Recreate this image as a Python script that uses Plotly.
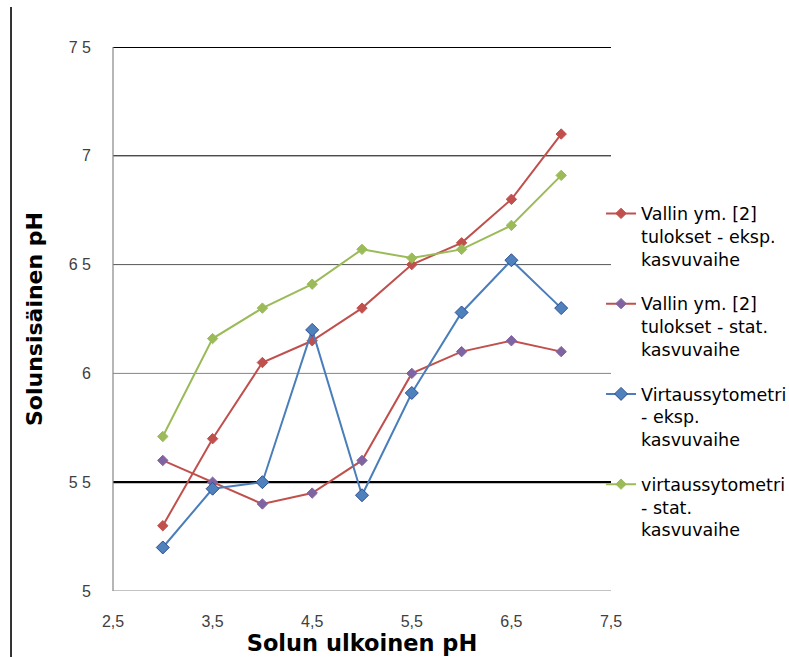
import plotly.graph_objects as go

# Solun ulkoinen pH (x) and measured intracellular pH per series
ulkoinen_ph = [3.0, 3.5, 4.0, 4.5, 5.0, 5.5, 6.0, 6.5, 7.0]

vallin_eksp = [5.30, 5.70, 6.05, 6.15, 6.30, 6.50, 6.60, 6.80, 7.10]
vallin_stat = [5.60, 5.50, 5.40, 5.45, 5.60, 6.00, 6.10, 6.15, 6.10]
virtaus_eksp = [5.20, 5.47, 5.50, 6.20, 5.44, 5.91, 6.28, 6.52, 6.30]
virtaus_stat = [5.71, 6.16, 6.30, 6.41, 6.57, 6.53, 6.57, 6.68, 6.91]

series_names = [
    "Vallin ym. [2]<br>tulokset - eksp.<br>kasvuvaihe",
    "Vallin ym. [2]<br>tulokset - stat.<br>kasvuvaihe",
    "Virtaussytometri<br>- eksp.<br>kasvuvaihe",
    "virtaussytometri<br>- stat.<br>kasvuvaihe",
]

x_tick_vals = [2.5, 3.5, 4.5, 5.5, 6.5, 7.5]
x_tick_text = ["2,5", "3,5", "4,5", "5,5", "6,5", "7,5"]
y_tick_vals = [5.0, 5.5, 6.0, 6.5, 7.0, 7.5]
y_tick_text = ["5", "5 5", "6", "6 5", "7", "7 5"]

# Per-gridline styling (width, colour), same order as y_tick_vals
grid_styles = [
    (1, "#868686"),
    (2.2, "#000000"),
    (1, "#868686"),
    (1, "#555555"),
    (1, "#000000"),
    (2.2, "#000000"),
]

# Trace styles: line colour, marker fill, marker outline, marker size
trace_styles = [
    ("#C0504D", "#C0504D", "#C0504D", 8),
    ("#C0504D", "#8064A2", "#8064A2", 8),
    ("#4A7EBB", "#4F81BD", "#2F4F8F", 10),
    ("#9BBB59", "#9BBB59", "#9BBB59", 8),
]

series_values = [vallin_eksp, vallin_stat, virtaus_eksp, virtaus_stat]

fig = go.Figure()
for i, (name, vals, style) in enumerate(zip(series_names, series_values, trace_styles)):
    line_c, fill_c, edge_c, msize = style
    fig.add_trace(go.Scatter(
        x=ulkoinen_ph,
        y=vals,
        name=name,
        legendgroup=f"g{i}",
        mode="lines+markers",
        line=dict(color=line_c, width=2),
        marker=dict(symbol="diamond", size=msize, color=fill_c,
                    line=dict(color=edge_c, width=1)),
    ))

shapes = []
for yv, (w, c) in zip(y_tick_vals, grid_styles):
    shapes.append(dict(type="line", xref="paper", yref="y", x0=0, x1=1,
                       y0=yv, y1=yv, line=dict(color=c, width=w), layer="below"))
# left plot border
shapes.append(dict(type="line", xref="paper", yref="paper", x0=0, x1=0,
                   y0=0, y1=1, line=dict(color="#868686", width=1.2)))
# page border on the far left
shapes.append(dict(type="line", xref="paper", yref="paper", x0=-0.2048, x1=-0.2048,
                   y0=1.0735, y1=-0.13, line=dict(color="#000000", width=1.6)))

fig.update_layout(
    width=789,
    height=657,
    margin=dict(l=113, r=178, t=47, b=66, autoexpand=False),
    paper_bgcolor="white",
    plot_bgcolor="white",
    font=dict(family="Liberation Sans, Arial", color="#404040"),
    shapes=shapes,
    showlegend=True,
    legend=dict(
        x=0.98, xanchor="left",
        y=0.727, yanchor="top",
        valign="top",
        tracegroupgap=19,
        font=dict(family="DejaVu Sans", size=17.5, color="#000000"),
        bgcolor="rgba(0,0,0,0)",
        itemwidth=30,
    ),
    xaxis=dict(
        range=[2.5, 7.5],
        tickvals=x_tick_vals,
        ticktext=x_tick_text,
        showgrid=False,
        zeroline=False,
        showline=False,
        ticks="",
        ticklabelstandoff=19,
        tickfont=dict(size=16, color="#404040"),
        title=dict(text="<b>Solun ulkoinen pH</b>",
                   font=dict(family="DejaVu Sans", size=22.5, color="#000000"),
                   standoff=1),
    ),
    yaxis=dict(
        range=[5.0, 7.5],
        tickvals=y_tick_vals,
        ticktext=y_tick_text,
        showgrid=False,
        zeroline=False,
        showline=False,
        ticks="",
        ticklabelstandoff=21,
        tickfont=dict(size=16, color="#404040"),
        title=dict(text="<b>Solunsisäinen pH</b>",
                   font=dict(family="DejaVu Sans", size=22, color="#000000"),
                   standoff=20),
    ),
)

fig.write_html("out.html")
